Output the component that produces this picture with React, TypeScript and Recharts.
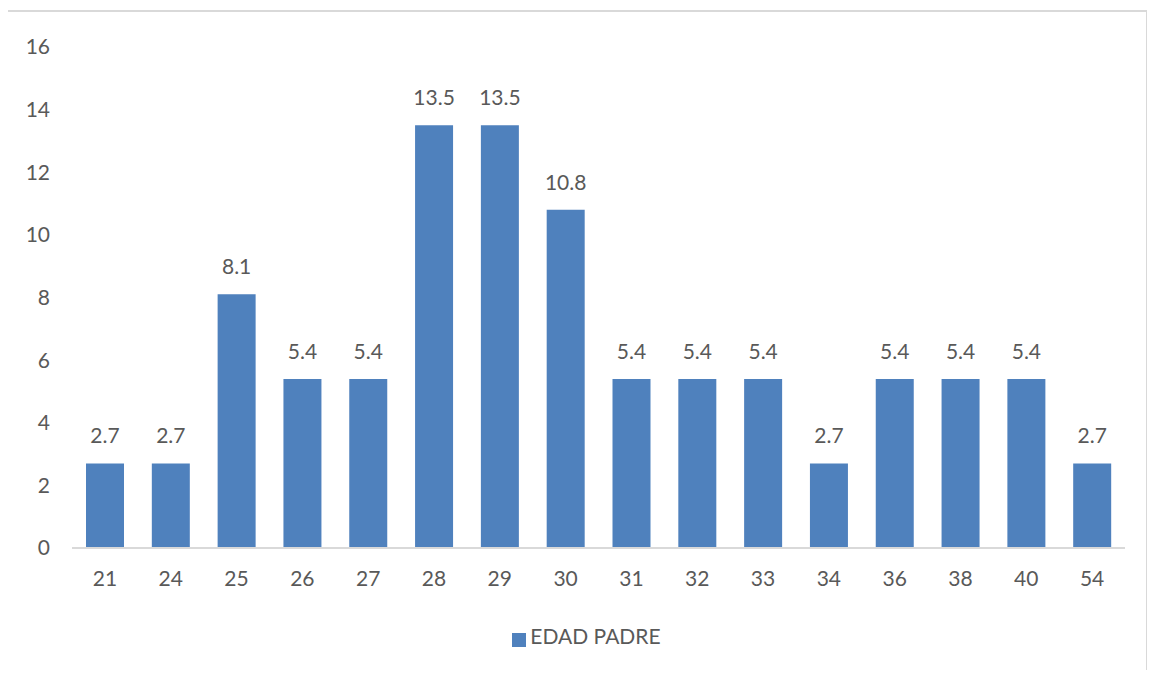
import { BarChart, Bar, XAxis, YAxis, LabelList, Legend } from 'recharts';

const ages = ['21', '24', '25', '26', '27', '28', '29', '30', '31', '32', '33', '34', '36', '38', '40', '54'];
const percents = [2.7, 2.7, 8.1, 5.4, 5.4, 13.5, 13.5, 10.8, 5.4, 5.4, 5.4, 2.7, 5.4, 5.4, 5.4, 2.7];
const yTicks = [0, 2, 4, 6, 8, 10, 12, 14, 16];

const data = ages.map((age, i) => ({ age, value: percents[i] }));

const FONT = 'Lato, "Noto Sans", sans-serif';
const TEXT = '#595959';
const BLUE = '#4F81BD';

export default function App() {
  return (
    <div style={{ position: 'relative', width: 1155, height: 678, margin: -8, overflow: 'hidden', background: '#fff', fontFamily: FONT }}>
      {/* chart frame */}
      <div
        style={{
          position: 'absolute',
          left: 6,
          top: 10,
          width: 1142,
          height: 700,
          border: '2px solid #d9d9d9',
          boxSizing: 'border-box',
        }}
      />
      <div style={{ position: 'absolute', left: 0, top: 0 }}>
        <BarChart
          width={1155}
          height={678}
          data={data}
          margin={{ top: 47, right: 30, left: 12, bottom: 60 }}
        >
          <YAxis
            domain={[0, 16]}
            ticks={yTicks}
            width={60}
            axisLine={false}
            tickLine={false}
            tickSize={0}
            tickMargin={22}
            tick={{ fill: TEXT, fontSize: 21, fontFamily: FONT }}
            interval={0}
          />
          <XAxis
            dataKey="age"
            height={40}
            axisLine={{ stroke: '#d9d9d9', strokeWidth: 2 }}
            tickLine={false}
            tickSize={0}
            tickMargin={23}
            tick={{ fill: TEXT, fontSize: 21, fontFamily: FONT }}
            interval={0}
          />
          <Legend
            verticalAlign="bottom"
            align="center"
            iconType="square"
            iconSize={14}
            wrapperStyle={{ position: 'absolute', top: 623, left: 14, width: 1155, height: 30 }}
            formatter={(v) => <span style={{ color: TEXT, fontSize: 21, fontFamily: FONT }}>{v}</span>}
          />
          <Bar dataKey="value" name="EDAD PADRE" fill={BLUE} barSize={38} isAnimationActive={false}>
            <LabelList
              dataKey="value"
              position="top"
              offset={20}
              fill={TEXT}
              fontSize={21}
              fontFamily={FONT}
              formatter={(v: number) => v.toFixed(1)}
            />
          </Bar>
        </BarChart>
      </div>
    </div>
  );
}
